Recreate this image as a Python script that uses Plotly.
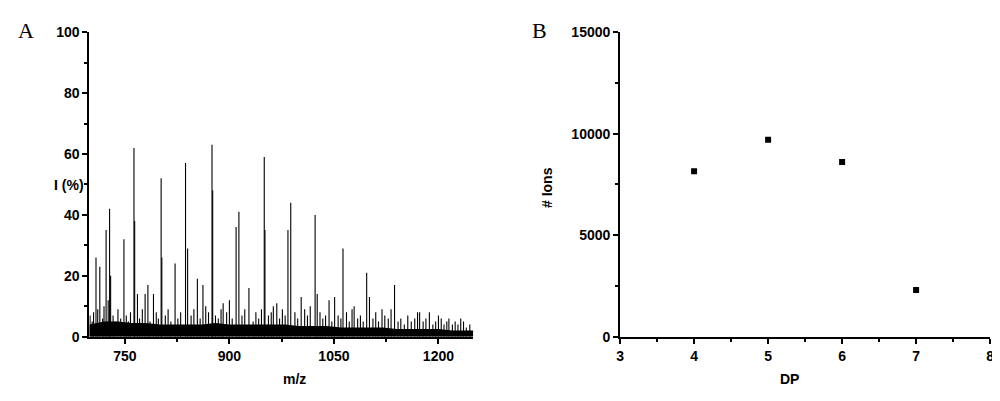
import plotly.graph_objects as go

# Panel A: mass spectrum peaks (m/z, relative intensity %)
peak_mz = [708.5, 714, 723, 728, 729.5, 748.6, 763, 764, 768, 779, 783, 791,
           802, 803, 822, 837, 840, 854, 862, 875, 876, 891, 909.6, 913.6, 928,
           950, 951, 963, 984, 988, 1003, 1023, 1026, 1043, 1051, 1063, 1079,
           1097, 1101, 1119, 1137, 1170, 1173, 1187, 1200, 1215, 1232]
peak_int = [26, 23, 35, 42, 20, 32, 62, 38, 14, 14, 17, 14,
            52, 26, 24, 57, 29, 19, 17, 63, 48, 11, 36, 41, 16,
            59, 35, 10, 35, 44, 13, 40, 14, 12, 13, 29, 10,
            21, 13, 9, 17, 8, 8, 8, 7, 6, 6]

# baseline noise peaks
noise_mz = [700, 703, 705, 711, 718, 720, 726, 733, 736, 740, 744, 752, 755, 758,
            771, 775, 786, 795, 798, 808, 812, 816, 826, 830, 845, 849, 858, 866,
            870, 880, 884, 888, 896, 900, 904, 918, 922, 934, 938, 942, 946, 956,
            960, 968, 972, 976, 980, 994, 998, 1008, 1012, 1016, 1030, 1034, 1038,
            1047, 1056, 1060, 1068, 1072, 1076, 1084, 1088, 1092, 1106, 1110, 1114,
            1123, 1128, 1132, 1142, 1146, 1151, 1156, 1161, 1166, 1178, 1182, 1192,
            1196, 1204, 1208, 1212, 1220, 1224, 1228, 1236, 1240, 1245]
noise_int = [7, 5, 8, 9, 6, 10, 12, 7, 5, 9, 6, 7, 5, 8,
             6, 9, 5, 8, 6, 7, 9, 5, 6, 8, 7, 9, 6, 10,
             8, 7, 6, 9, 8, 12, 6, 7, 9, 5, 8, 6, 9, 7,
             8, 11, 6, 9, 7, 8, 6, 9, 7, 10, 8, 6, 7,
             5, 7, 6, 8, 5, 9, 6, 7, 5, 6, 8, 5,
             7, 6, 9, 5, 6, 4, 7, 5, 6, 5, 6, 4,
             5, 6, 4, 5, 4, 5, 4, 5, 3, 4]

# low dense band under the spectrum (height in % per m/z)
band_mz = [699, 720, 740, 760, 780, 800, 820, 840, 860, 880, 900, 920, 940, 960,
           980, 1000, 1020, 1040, 1060, 1080, 1100, 1120, 1140, 1160, 1180, 1200,
           1220, 1240, 1250]
band_int = [4, 5, 5, 4.5, 4.5, 4, 4, 4, 4, 4.5, 4, 4, 4, 4,
            4, 3.5, 3.5, 3.5, 3, 3, 3, 3, 2.5, 2.5, 2.5, 2.5,
            2, 2, 2]

# Panel B: number of ions per DP
dp = [4, 5, 6, 7]
n_ions = [8150, 9700, 8600, 2300]

all_mz = peak_mz + noise_mz
all_int = peak_int + noise_int
sx, sy = [], []
for m, v in zip(all_mz, all_int):
    sx += [m, m, None]
    sy += [0, v, None]

fig = go.Figure()
fig.add_trace(go.Scatter(x=band_mz, y=band_int, mode='lines', line=dict(color='black', width=0),
                         fill='tozeroy', fillcolor='black', xaxis='x', yaxis='y', showlegend=False))
fig.add_trace(go.Scatter(x=sx, y=sy, mode='lines', line=dict(color='black', width=1.1),
                         xaxis='x', yaxis='y', showlegend=False))
fig.add_trace(go.Scatter(x=dp, y=n_ions, mode='markers',
                         marker=dict(symbol='square', size=6, color='black'),
                         xaxis='x2', yaxis='y2', showlegend=False))

tf = dict(family='Liberation Sans', size=14, color='black', weight='bold')
common = dict(showline=True, linecolor='black', linewidth=2, ticks='outside',
              ticklen=5, tickwidth=2, tickcolor='black', showgrid=False,
              zeroline=False, tickfont=tf, mirror=False)
minor = dict(ticks='outside', ticklen=3, tickwidth=1.5, tickcolor='black', showgrid=False)

ydom = [0.167, 0.958]
fig.update_layout(
    width=1000, height=401, margin=dict(l=0, r=0, t=0, b=0),
    plot_bgcolor='white', paper_bgcolor='white',
    xaxis=dict(domain=[0.078, 0.465], range=[699, 1250], tickvals=[750, 900, 1050, 1200],
               minor=dict(tickvals=[825, 975, 1125], **minor), anchor='y', **common),
    yaxis=dict(domain=ydom, range=[0, 100], dtick=20,
               minor=dict(dtick=10, **minor), anchor='x', **common),
    xaxis2=dict(domain=[0.613, 0.986], range=[3, 8], dtick=1,
                minor=dict(dtick=0.5, **minor), anchor='y2', **common),
    yaxis2=dict(domain=ydom, range=[0, 15000], dtick=5000, tickformat='d',
                minor=dict(dtick=2500, **minor), anchor='x2', **common),
    annotations=[
        dict(text='A', x=0.004, y=1.0, xref='paper', yref='paper', showarrow=False,
             xanchor='left', yanchor='top',
             font=dict(family='Liberation Serif', size=22, color='black')),
        dict(text='B', x=0.522, y=1.0, xref='paper', yref='paper', showarrow=False,
             xanchor='left', yanchor='top',
             font=dict(family='Liberation Serif', size=22, color='black')),
        dict(text='I (%)', x=0.04, y=0.56, xref='paper', yref='paper', showarrow=False,
             font=tf),
        dict(text='m/z', x=0.271, y=0.03, xref='paper', yref='paper', showarrow=False,
             font=tf),
        dict(text='# Ions', x=0.540, y=0.555, xref='paper', yref='paper', showarrow=False,
             textangle=-90, font=tf),
        dict(text='DP', x=0.795, y=0.03, xref='paper', yref='paper', showarrow=False,
             font=tf),
    ],
)

fig.write_html("out.html")
